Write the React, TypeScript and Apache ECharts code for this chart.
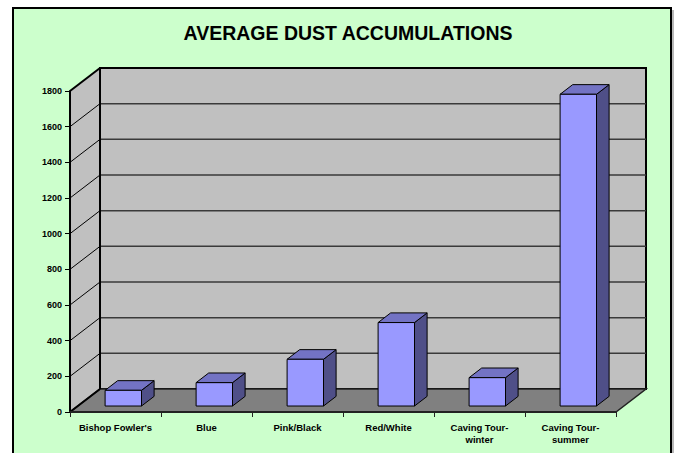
import React, { useEffect, useRef } from "react";
import * as echarts from "echarts";

const categories = [
  "Bishop Fowler's",
  "Blue",
  "Pink/Black",
  "Red/White",
  "Caving Tour-\nwinter",
  "Caving Tour-\nsummer",
];
const dustValues = [88, 131, 262, 468, 159, 1748];
const yTicks = [0, 200, 400, 600, 800, 1000, 1200, 1400, 1600, 1800];
const chartTitle = "AVERAGE DUST ACCUMULATIONS";

const DX = 30;
const DY = 23;
const FRONT = 0.26;
const BACK = 0.68;
const FONT = "Arial, 'Liberation Sans', sans-serif";

export default function App() {
  const ref = useRef<HTMLDivElement>(null);
  useEffect(() => {
    if (!ref.current) return;
    const chart = echarts.init(ref.current, null, { renderer: "svg" });
    const yMax = yTicks[yTicks.length - 1];
    const nCat = categories.length;

    const wallsRender = (params: any, api: any) => {
      const band = api.size([1, 0])[0];
      const x0 = api.coord([0, 0])[0] - band / 2;
      const x1 = api.coord([nCat - 1, 0])[0] + band / 2;
      const y0 = api.coord([0, 0])[1];
      const yT = api.coord([0, yMax])[1];
      const children: any[] = [];
      children.push({
        type: "polygon",
        shape: { points: [[x0, y0], [x0, yT], [x0 + DX, yT - DY], [x0 + DX, y0 - DY]] },
        style: { fill: "#C0C0C0", stroke: null },
      });
      children.push({
        type: "rect",
        shape: { x: x0 + DX, y: yT - DY, width: x1 - x0, height: y0 - yT },
        style: { fill: "#C0C0C0", stroke: "#000", lineWidth: 2 },
      });
      children.push({
        type: "polygon",
        shape: { points: [[x0, y0], [x1, y0], [x1 + DX, y0 - DY], [x0 + DX, y0 - DY]] },
        style: { fill: "#808080", stroke: "#222", lineWidth: 1.5 },
      });
      yTicks.forEach((t) => {
        const y = api.coord([0, t])[1];
        if (t > 0 && t < yMax) {
          children.push({
            type: "line",
            shape: { x1: x0 + DX, y1: y - DY, x2: x1 + DX, y2: y - DY },
            style: { stroke: "#3a3a3a", lineWidth: 1.5 },
          });
        }
        children.push({
          type: "line",
          shape: { x1: x0, y1: y, x2: x0 + DX, y2: y - DY },
          style: { stroke: "#000", lineWidth: t === 0 || t === yMax ? 2 : 1 },
        });
      });
      children.push({
        type: "line",
        shape: { x1: x0 + DX, y1: yT - DY, x2: x0 + DX, y2: y0 - DY },
        style: { stroke: "#000", lineWidth: 2 },
      });
      return { type: "group", children };
    };

    const barRender = (params: any, api: any) => {
      const i = api.value(0);
      const v = api.value(1);
      const band = api.size([1, 0])[0];
      const base = api.coord([i, 0]);
      const top = api.coord([i, v]);
      const w = band * 0.4;
      const L = base[0] - w / 2;
      const R = base[0] + w / 2;
      const y0 = base[1];
      const yv = top[1];
      const fx = FRONT * DX, fy = FRONT * DY, bx = BACK * DX, by = BACK * DY;
      const edge = { stroke: "#000", lineWidth: 1 };
      return {
        type: "group",
        children: [
          {
            type: "polygon",
            shape: { points: [[R + fx, yv - fy], [R + bx, yv - by], [R + bx, y0 - by], [R + fx, y0 - fy]] },
            style: { fill: "#4F4F88", ...edge },
          },
          {
            type: "polygon",
            shape: { points: [[L + fx, yv - fy], [R + fx, yv - fy], [R + bx, yv - by], [L + bx, yv - by]] },
            style: { fill: "#7373C4", ...edge },
          },
          {
            type: "rect",
            shape: { x: L + fx, y: yv - fy, width: w, height: y0 - yv },
            style: { fill: "#9999FF", ...edge },
          },
        ],
      };
    };

    chart.setOption({
      animation: false,
      backgroundColor: "#ffffff",
      title: {
        text: chartTitle,
        left: 343,
        top: 18,
        textAlign: "center",
        textStyle: { fontSize: 19.5, fontWeight: "bold", fontFamily: FONT, color: "#000" },
      },
      graphic: [
        {
          type: "rect",
          z: -10,
          shape: { x: 13, y: 8, width: 658, height: 470 },
          style: { fill: "#CCFFCC", stroke: "#000", lineWidth: 2 },
        },
        {
          type: "line",
          z: -10,
          shape: { x1: 673, y1: 10, x2: 673, y2: 460 },
          style: { stroke: "#A0A0A0", lineWidth: 1.5 },
        },
      ],
      grid: { left: 70, right: 61, top: 91, bottom: 41 },
      xAxis: {
        type: "category",
        data: categories,
        boundaryGap: true,
        axisLine: { show: true, lineStyle: { color: "#222", width: 2 } },
        axisTick: { show: true, interval: 0, length: 5, lineStyle: { color: "#222", width: 1 } },
        axisLabel: {
          interval: 0,
          margin: 9,
          fontSize: 9.5,
          fontWeight: "bold",
          fontFamily: FONT,
          color: "#000",
          lineHeight: 12,
        },
        splitLine: { show: false },
        z: 5,
      },
      yAxis: {
        type: "value",
        min: 0,
        max: yMax,
        interval: 200,
        axisLine: { show: true, lineStyle: { color: "#000", width: 2 } },
        axisTick: { show: true, length: 5, lineStyle: { color: "#000", width: 1 } },
        axisLabel: {
          margin: 8,
          fontSize: 9,
          fontWeight: "bold",
          fontFamily: FONT,
          color: "#000",
          formatter: (v: number) => String(v),
        },
        splitLine: { show: false },
        z: 5,
      },
      series: [
        {
          type: "custom",
          renderItem: wallsRender,
          data: [[0, 0]],
          z: 1,
          silent: true,
        },
        {
          type: "custom",
          renderItem: barRender,
          data: dustValues.map((v, i) => [i, v]),
          z: 3,
        },
      ],
    });
    return () => chart.dispose();
  }, []);
  return (
    <div
      ref={ref}
      style={{ position: "absolute", left: 0, top: 0, width: 677, height: 453 }}
    />
  );
}
